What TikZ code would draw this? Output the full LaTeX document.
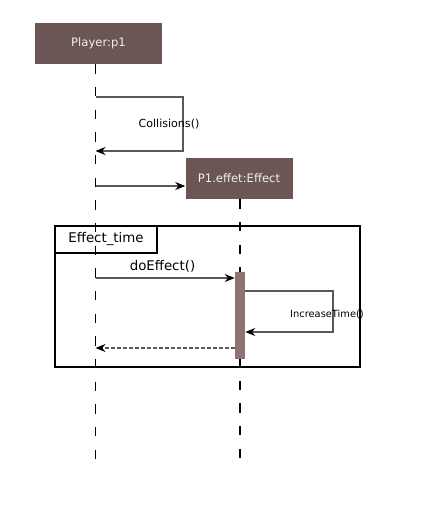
\documentclass[tikz,border=0pt]{standalone}
\usepackage{fontspec}
\setmainfont{DejaVu Sans}
\usetikzlibrary{arrows.meta,positioning,calc}
\definecolor{objbrown}{HTML}{6B5555}
\definecolor{barbrown}{HTML}{917270}

\begin{document}
\begin{tikzpicture}[x=0.75pt,y=-0.75pt,
  obj/.style={fill=objbrown,text=white!92!objbrown,minimum height=30.75pt,inner sep=0pt,font=\fontsize{8.7}{10}\selectfont},
  lifeline/.style={line width=0.8pt,dash pattern=on 7pt off 10pt},
  msg/.style={draw=black!65,line width=0.9pt,-{Stealth[length=7.5pt,width=6pt,color=black]}},
  ret/.style={msg,dash pattern=on 2.5pt off 2pt},
  lbl/.style={inner sep=0pt}]
\useasboundingbox (0,0) rectangle (421,520);
% objects
\node[obj,minimum width=95.25pt] (player) at (98.5,43.5) {Player:p1};
\node[obj,minimum width=80.25pt] (p1) at (239,178.5) {P1.effet:Effect};
% lifelines
\coordinate (playerEnd) at (95.5,460);
\coordinate (p1End) at (240,460);
\draw[lifeline] (player.south -| playerEnd) -- (playerEnd);
\draw[lifeline] (p1.south -| p1End) -- (p1End);
% frame
\node[draw,line width=1.1pt,minimum width=228.75pt,minimum height=105.75pt,inner sep=0pt] (frame) at (207.5,296.5) {};
\node[draw,line width=1.1pt,anchor=north west,minimum width=76.5pt,minimum height=20.25pt,inner sep=0pt,font=\fontsize{10}{12}\selectfont] (tag) at (frame.north west) {Effect\_time};
% activation
\node[fill=barbrown,minimum width=7.5pt,minimum height=65.25pt,inner sep=0pt] (act) at (240,315.5) {};
% Collisions()
\coordinate (c1) at (95.5,97);
\coordinate (c2) at (183,97);
\coordinate (c3) at (183,151);
\coordinate (c4) at (95.5,151);
\draw[msg] (c1) -- (c2) -- (c3) -- (c4);
\node[lbl,font=\fontsize{8.3}{10}\selectfont] (colLbl) at (169,124) {Collisions()};
% create
\coordinate (s1) at (95.5,186);
\draw[msg] (s1) -- (p1.west |- s1);
% doEffect()
\coordinate (d1) at (95.5,278);
\draw[msg] (d1) -- (act.west |- d1);
\node[lbl,font=\fontsize{10}{12}\selectfont] (doLbl) at (162.5,266) {doEffect()};
% IncreaseTime()
\coordinate (i2) at (333,291);
\coordinate (i3) at (333,332);
\draw[msg] (act.east |- i2) -- (i2) -- (i3) -- (act.east |- i3);
\node[lbl,font=\fontsize{7.4}{9}\selectfont] (incLbl) at (327,314) {IncreaseTime()};
% return
\coordinate (r1) at (95.5,348);
\draw[ret] (act.west |- r1) -- (r1);
\end{tikzpicture}
\end{document}
